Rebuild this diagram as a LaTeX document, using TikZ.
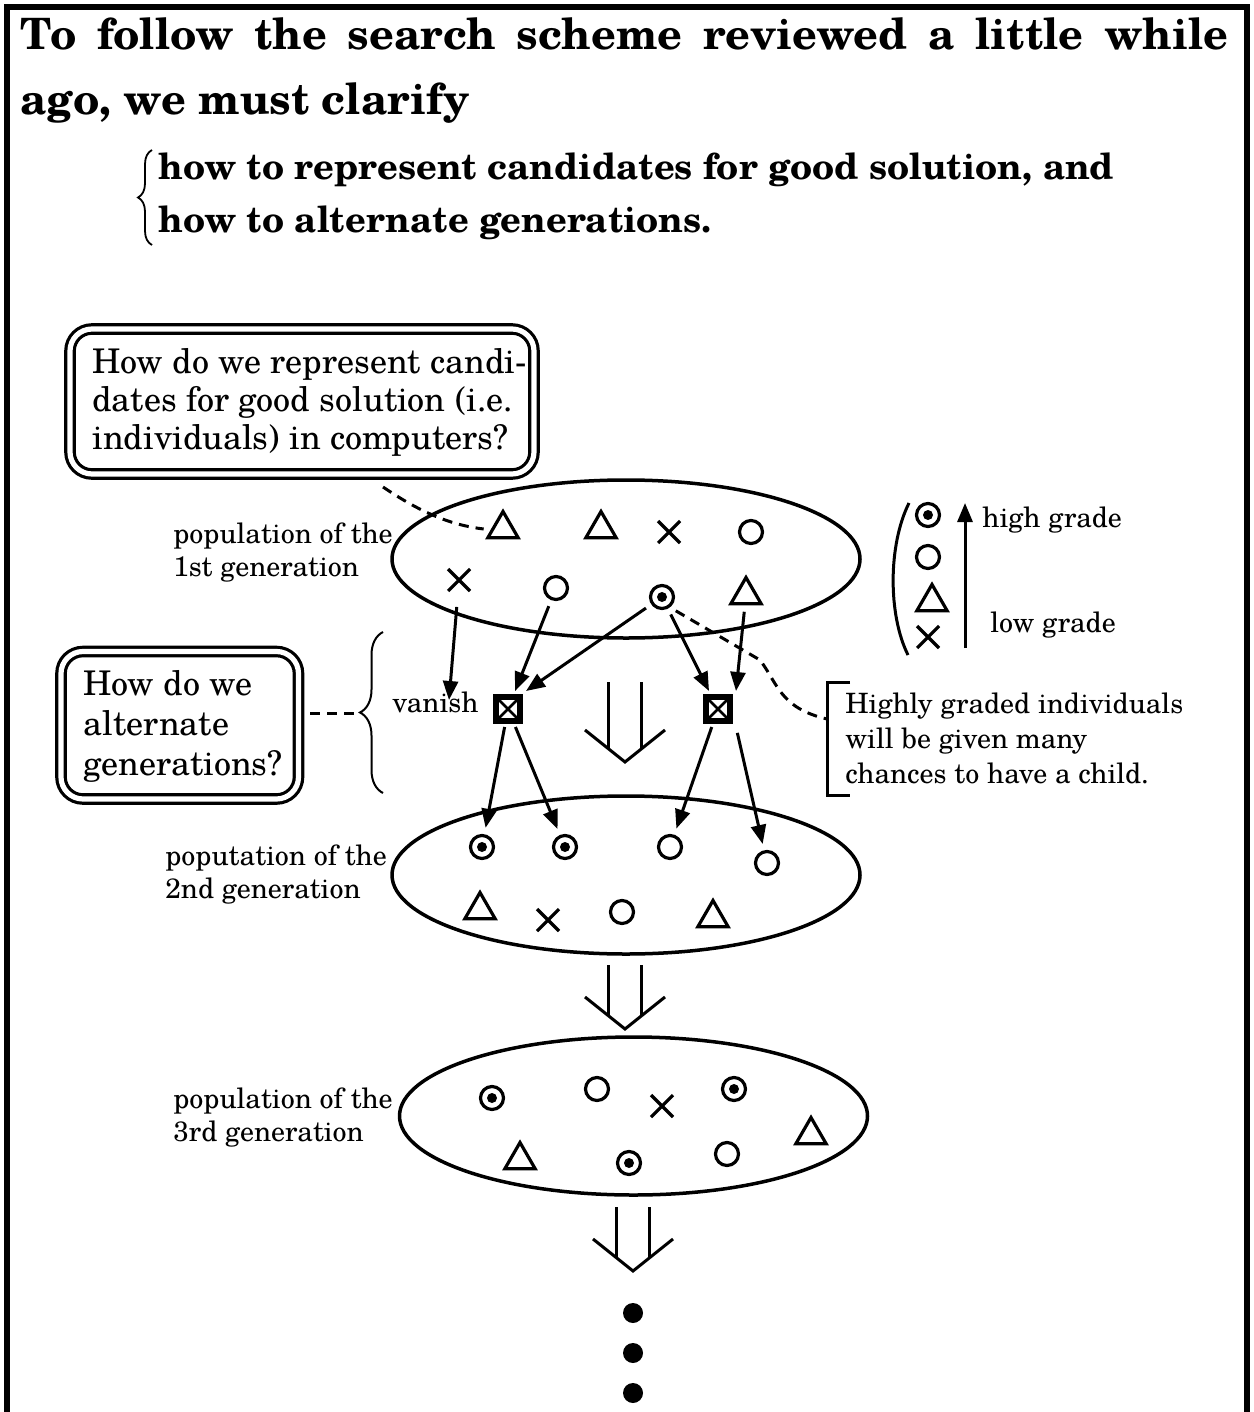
\documentclass[tikz,border=0pt]{standalone}
\usepackage{fontspec}
\setmainfont{texgyreschola}[Extension=.otf, UprightFont=*-regular, BoldFont=*-bold, ItalicFont=*-italic, BoldItalicFont=*-bolditalic]
\usetikzlibrary{shapes.geometric,shapes.misc,arrows.meta,decorations.pathreplacing}
\newcommand{\txtlines}[1]{\begin{tabular}[t]{@{}l@{}}#1\end{tabular}}
\newcommand{\openarrow}[3]{%
  \draw[big] (#1-16.5,#2) -- (#1-16.5,#3+19);
  \draw[big] (#1+16.5,#2) -- (#1+16.5,#3+19);
  \draw[big] (#1-40,#3) -- (#1,#3+32) -- (#1+40,#3);}
\tikzset{
  sym/.style={draw, line width=1.6pt, inner sep=0pt, outer sep=4pt},
  circsym/.style={sym, circle, minimum size=11.5pt},
  dotsym/.style={circsym, path picture={\fill (path picture bounding box.center) circle (2.5pt);}},
  trisym/.style={sym, regular polygon, regular polygon sides=3, minimum size=17.5pt},
  crosssym/.style={sym, cross out, minimum size=11pt, outer sep=0pt},
  sqsym/.style={draw, line width=2.6pt, rectangle, minimum size=12pt, inner sep=0pt, outer sep=3pt,
    path picture={\draw[line width=1.3pt] (path picture bounding box.north west) -- (path picture bounding box.south east) (path picture bounding box.north east) -- (path picture bounding box.south west);}},
  pop/.style={draw, ellipse, line width=1.75pt, minimum width=234pt, minimum height=79pt, inner sep=0pt},
  qbox/.style={draw, double, line width=1.6pt, double distance=2.6pt, rounded corners=11pt, inner sep=0pt},
  arr/.style={line width=1.5pt, -{Triangle[length=9.5pt,width=7.5pt]}},
  dashline/.style={line width=1.5pt, dash pattern=on 5pt off 3.5pt},
  big/.style={line width=1.5pt, line join=miter},
  lab/.style={inner sep=0pt, anchor=base west, font=\fontsize{14}{16.5}\selectfont},
  qtxt/.style={inner sep=0pt, anchor=base west, font=\fontsize{17}{19}\selectfont},
  head/.style={inner sep=0pt, anchor=base west, font=\fontsize{21.6}{25}\selectfont\bfseries},
  subhead/.style={inner sep=0pt, anchor=base west, font=\fontsize{18.1}{21}\selectfont\bfseries},
}
\begin{document}
\begin{tikzpicture}[x=0.5pt,y=-0.5pt]
\useasboundingbox (0,0) rectangle (1253,1412);
% frame (open at the bottom)
\draw[line width=2.6pt] (7,1412) -- (7,7) -- (1247,7) -- (1247,1412);

% heading
\node[head] (h1) at (20,50) {\makebox[604pt][s]{To follow the search scheme reviewed a little while}};
\node[head] (h2) at (20,115) {ago, we must clarify};
\draw[line width=0.9pt, decorate, decoration={brace, amplitude=7pt}] (152,245) -- (152,150);
\node[subhead] (s1) at (158,180) {how to represent candidates for good solution, and};
\node[subhead] (s2) at (158,233) {how to alternate generations.};

% question boxes
\node[qbox, minimum width=232pt, minimum height=72.5pt] (q1) at (302,401.5) {};
\node[qtxt] (q1t) at (92,373) {\txtlines{How do we represent candi-\\dates for good solution (i.e.\\individuals) in computers?}};
\node[qbox, minimum width=118.75pt, minimum height=73.75pt] (q2) at (179.75,725.25) {};
\node[qtxt, font=\fontsize{17}{20}\selectfont] (q2t) at (83,695) {\txtlines{How do we\\alternate\\generations?}};

% populations
\node[pop] (g1) at (626,559) {};
\node[pop] (g2) at (626,875) {};
\node[pop] (g3) at (633.5,1116) {};

\node[lab] (l1) at (173,543) {\txtlines{population of the\\1st generation}};
\node[lab] (l2) at (165,865) {\txtlines{poputation of the\\2nd generation}};
\node[lab] (l3) at (173,1108) {\txtlines{population of the\\3rd generation}};

% generation 1
\node[trisym] (t1) at (503,529) {};
\node[trisym] (t1b) at (601,529) {};
\node[crosssym] (x1) at (669,532) {};
\node[circsym] (c1a) at (751,532) {};
\node[crosssym] (x2) at (459,580) {};
\node[circsym] (c1) at (556,588) {};
\node[dotsym] (dc1) at (662,597) {};
\node[trisym] (t2) at (746,595) {};

% parents
\node[sqsym] (sq1) at (508,709) {};
\node[sqsym] (sq2) at (718,709) {};
\node[lab] (van) at (392,712) {vanish};
\coordinate (vanpt) at (449,700);

% generation 2
\node[dotsym] (d2a) at (482,847) {};
\node[dotsym] (d2b) at (565,847) {};
\node[circsym] (c2a) at (670,847) {};
\node[circsym] (c2b) at (767,863) {};
\node[trisym] (t2a) at (480,910) {};
\node[crosssym] (x2a) at (548,920) {};
\node[circsym] (c2c) at (622,912) {};
\node[trisym] (t2b) at (713,918) {};

% generation 3
\node[dotsym] (d3a) at (492,1098) {};
\node[circsym] (c3a) at (597,1089) {};
\node[crosssym] (x3a) at (662,1106) {};
\node[dotsym] (d3b) at (734,1089) {};
\node[trisym] (t3a) at (811,1135) {};
\node[trisym] (t3b) at (520,1160) {};
\node[dotsym] (d3c) at (629,1163) {};
\node[circsym] (c3b) at (727,1154) {};

% selection / crossover arrows
\draw[arr, shorten <=8pt] (x2) -- (vanpt);
\draw[arr] (c1) -- (sq1);
\draw[arr] (dc1) -- (sq1.north east);
\draw[arr] (dc1) -- (sq2);
\draw[arr] (t2) -- (sq2.north east);
\draw[arr] (sq1) -- (d2a);
\draw[arr] (sq1) -- (d2b);
\draw[arr] (sq2) -- (c2a);
\draw[arr, shorten <=3pt] (sq2.south east) -- (c2b);

% open double arrows
\openarrow{625}{682}{730}
\openarrow{625}{965}{997}
\openarrow{633}{1207}{1239}
\fill (633,1313) circle (5pt);
\fill (633,1353) circle (5pt);
\fill (633,1393) circle (5pt);

% dashed callouts
\coordinate (q1p) at (383,487);
\draw[dashline] (q1p) .. controls (420,512) and (450,525) .. (t1.west);
\draw[line width=1pt, decorate, decoration={brace, amplitude=11.5pt}] (383,793) -- (383,632);
\coordinate (brtip) at (358,713);
\draw[dashline, shorten <=5pt] (brtip -| q2.east) -- (brtip);

\draw[line width=1.5pt] (850,682) -- (827,682) -- (827,795) -- (850,795);
\coordinate (hgb) at (827,719);
\node[lab, font=\fontsize{14}{17.5}\selectfont] (hg) at (845,713) {\txtlines{Highly graded individuals\\will be given many\\chances to have a child.}};
\draw[dashline] (dc1.south east) -- (760,660) .. controls (778,684) and (780,708) .. (hgb);

% legend
\draw[line width=1.5pt] (909,503) .. controls (888,545) and (888,615) .. (908,655);
\node[dotsym] (lg1) at (928,515) {};
\node[circsym] (lg2) at (928,557) {};
\node[trisym] (lg3) at (932,602) {};
\node[crosssym] (lg4) at (928,637) {};
\coordinate (lgb) at (965,648);
\coordinate (lgt) at (965,503);
\draw[arr] (lgb) -- (lgt);
\node[lab] (hi) at (982,527) {high grade};
\node[lab] (lo) at (990,632) {low grade};
\end{tikzpicture}
\end{document}
